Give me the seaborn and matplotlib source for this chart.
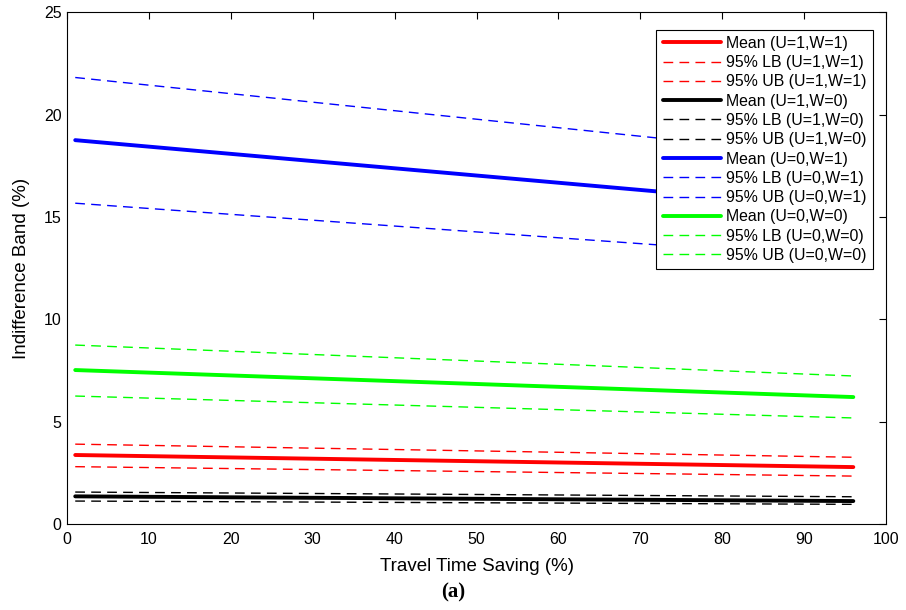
import matplotlib
matplotlib.use("Agg")
import matplotlib.pyplot as plt
import seaborn as sns
import pandas as pd

sns.set_theme(style="white")
plt.rcParams['font.family'] = ['Liberation Sans', 'DejaVu Sans']
plt.rcParams['text.color'] = 'black'
plt.rcParams['axes.labelcolor'] = 'black'

x_vals = [1, 96]

# (start, end) values for each series
red_mean = [3.37, 2.78]
red_lb = [3.90, 3.26]
red_ub = [2.80, 2.34]
black_mean = [1.35, 1.12]
black_lb = [1.56, 1.33]
black_ub = [1.12, 0.96]
blue_mean = [18.75, 15.40]
blue_lb = [21.81, 17.86]
blue_ub = [15.67, 12.95]
green_mean = [7.52, 6.20]
green_lb = [8.74, 7.23]
green_ub = [6.25, 5.18]

labels = ["Mean (U=1,W=1)", "95% LB (U=1,W=1)", "95% UB (U=1,W=1)",
          "Mean (U=1,W=0)", "95% LB (U=1,W=0)", "95% UB (U=1,W=0)",
          "Mean (U=0,W=1)", "95% LB (U=0,W=1)", "95% UB (U=0,W=1)",
          "Mean (U=0,W=0)", "95% LB (U=0,W=0)", "95% UB (U=0,W=0)"]
series = [red_mean, red_lb, red_ub, black_mean, black_lb, black_ub,
          blue_mean, blue_lb, blue_ub, green_mean, green_lb, green_ub]
colors = ["#ff0000"] * 3 + ["#000000"] * 3 + ["#0000ff"] * 3 + ["#00ff00"] * 3

fig = plt.figure(figsize=(9.06, 6.10), dpi=100)
ax = fig.add_axes([0.074, 0.141, 0.904, 0.839])

for i, (lab, vals, col) in enumerate(zip(labels, series, colors)):
    df = pd.DataFrame({"x": x_vals, "y": vals})
    is_mean = lab.startswith("Mean")
    sns.lineplot(data=df, x="x", y="y", ax=ax, color=col,
                 lw=2.8 if is_mean else 1.0, label=lab)
    l = ax.get_lines()[-1]
    if not is_mean:
        l.set_dashes((7, 4.5))

ax.set_xlim(0, 100)
ax.set_ylim(0, 25)
ax.set_xticks(range(0, 101, 10))
ax.set_yticks(range(0, 26, 5))
ax.tick_params(direction="in", top=True, right=True, length=5, width=0.8,
               labelsize=11.5, colors="black", pad=4)
ax.tick_params(axis="x", pad=6)
for s in ax.spines.values():
    s.set_color("black")
    s.set_linewidth(0.8)
ax.set_xlabel("Travel Time Saving (%)", fontsize=13.5, labelpad=8)
ax.set_ylabel("Indifference Band (%)", fontsize=13.5, labelpad=10)

leg = ax.legend(loc="upper right", bbox_to_anchor=(0.984, 0.966), fontsize=11.4,
                frameon=True, fancybox=False, edgecolor="black", framealpha=1,
                handlelength=3.7, handletextpad=0.3, labelspacing=0.27,
                borderpad=0.4, borderaxespad=0.0)
leg.get_frame().set_linewidth(0.8)

fig.text(0.5, 0.012, "(a)", ha="center", va="bottom", fontsize=15,
         fontweight="bold", family=["Liberation Serif", "DejaVu Serif"])

fig.savefig("out.png", dpi=100, facecolor="white")
